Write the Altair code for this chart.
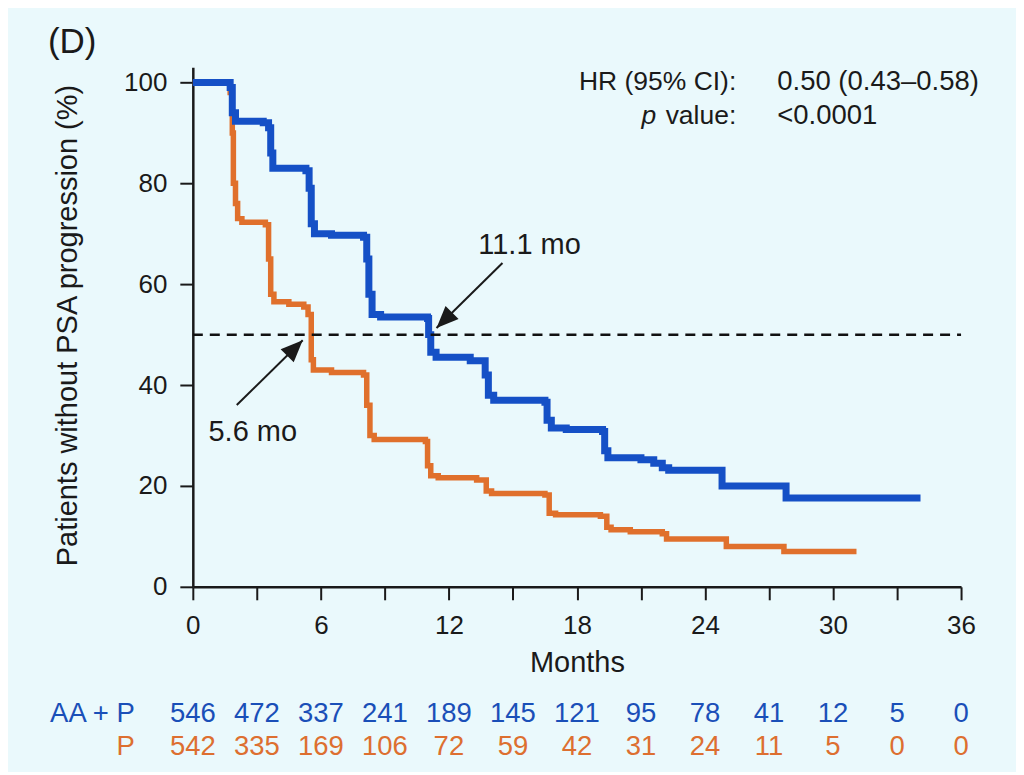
import altair as alt
import pandas as pd

# ---------------- data ----------------
aap_months = [0, 1.75, 1.85, 2.0, 3.3, 3.55, 3.65, 3.75, 5.3, 5.45, 5.55, 5.7, 6.5, 8.0, 8.15, 8.25, 8.4, 8.8,
              11.0, 11.05, 11.15, 11.4, 13.0, 13.7, 13.85, 14.1, 16.5, 16.6, 16.8, 17.5, 19.2, 19.3, 19.45,
              21.0, 21.6, 22.0, 22.3, 24.8, 27.8, 34.1]
aap_pct = [100, 99, 94, 92.3, 92, 91, 86, 83, 82.5, 79, 72, 70, 69.7, 69.3, 65, 58, 54, 53.5,
           53.2, 50, 46.5, 45.5, 44.8, 42, 38, 37, 36.6, 33, 31.5, 31.2, 30.8, 27, 25.6,
           25.2, 24.5, 23.6, 23.1, 20, 17.6, 17.6]

p_months = [0, 1.75, 1.85, 1.9, 2.0, 2.1, 2.3, 3.4, 3.55, 3.65, 3.8, 4.5, 5.2, 5.4, 5.55, 5.65, 6.5, 8.0,
            8.15, 8.3, 8.5, 10.9, 11.0, 11.15, 11.5, 13.3, 13.75, 14.0, 16.5, 16.7, 17.0, 19.1, 19.4,
            19.6, 20.5, 22.0, 22.2, 25.0, 27.7, 31.1]
p_pct = [100, 98, 90, 80, 76, 73, 72.3, 71.8, 65, 58, 56.5, 56, 55.5, 54, 45, 43, 42.5, 42,
         36, 30, 29.2, 28.8, 24, 22, 21.6, 21.2, 19, 18.5, 18.2, 14.6, 14.3, 14.0, 11.8,
         11.3, 10.9, 10.5, 9.5, 8.0, 7.0, 7.0]

risk_months = [0, 3, 6, 9, 12, 15, 18, 21, 24, 27, 30, 33, 36]
risk_aap = [546, 472, 337, 241, 189, 145, 121, 95, 78, 41, 12, 5, 0]
risk_p = [542, 335, 169, 106, 72, 59, 42, 31, 24, 11, 5, 0, 0]

arms = ["AA + P", "P"]
arm_colors = ["#1550c6", "#e0702c"]
text_colors = ["#1a4fb8", "#dd6f30"]

median_label = ["11.1 mo", "5.6 mo"]
arrow_tip_x = [11.42, 5.15]
arrow_tip_y = [51.3, 48.9]
arrow_start_x = [14.51, 2.06]
arrow_start_y = [64.2, 36.05]
arrow_angle = [225, 45]
label_x = [15.78, 2.81]
label_y = [67.7, 30.7]

stats_left = ["HR (95% CI):", "value:"]
stats_right = ["0.50 (0.43\u20130.58)", "<0.0001"]
stats_y = [100.0, 93.3]

FONT = "Liberation Sans"
W, H = 769, 520

xs = alt.Scale(domain=[0, 36], nice=False)
ys = alt.Scale(domain=[0, 103], nice=False)

df_aap = pd.DataFrame({"month": aap_months, "pct": aap_pct})
df_p = pd.DataFrame({"month": p_months, "pct": p_pct})

x_axis = alt.Axis(values=list(range(0, 37, 3)),
                  labelExpr="datum.value % 6 === 0 ? datum.label : ''",
                  tickSize=13, tickWidth=2, domainWidth=2.5, domainColor="#1a1a1a", tickColor="#1a1a1a",
                  labelFontSize=26, labelPadding=13, labelFlush=False, labelColor="#1a1a1a",
                  grid=False, title="Months", titleFontSize=29, titleFontWeight="normal",
                  titleColor="#1a1a1a", titleX=W / 2, titleY=76, titleBaseline="middle", titleAlign="center")
y_axis = alt.Axis(values=[0, 20, 40, 60, 80, 100], tickSize=13, tickWidth=2, domainWidth=2.5,
                  domainColor="#1a1a1a", tickColor="#1a1a1a",
                  labelFontSize=26, labelPadding=13, labelColor="#1a1a1a", grid=False,
                  title="Patients without PSA progression (%)", titleFontSize=29, titleFontWeight="normal",
                  titleColor="#1a1a1a", titleX=-125, titleY=258, titleAngle=-90,
                  titleAlign="center", titleBaseline="middle")

line_p = alt.Chart(df_p).mark_line(interpolate="step-after", color=arm_colors[1], strokeWidth=5.5).encode(
    x=alt.X("month:Q", scale=xs, axis=x_axis),
    y=alt.Y("pct:Q", scale=ys, axis=y_axis),
)
line_aap = alt.Chart(df_aap).mark_line(interpolate="step-after", color=arm_colors[0], strokeWidth=7).encode(
    x=alt.X("month:Q", scale=xs),
    y=alt.Y("pct:Q", scale=ys),
)

ref = pd.DataFrame({"x0": [0], "x1": [36], "y": [50]})
dash = alt.Chart(ref).mark_rule(color="#111111", strokeWidth=2.5, strokeDash=[10, 7]).encode(
    x=alt.X("x0:Q", scale=xs), x2="x1:Q", y=alt.Y("y:Q", scale=ys))

arr = pd.DataFrame({"label": median_label, "tx": arrow_tip_x, "ty": arrow_tip_y,
                    "sx": arrow_start_x, "sy": arrow_start_y, "ang": arrow_angle,
                    "lx": label_x, "ly": label_y})
arrow_lines = alt.Chart(arr).mark_rule(color="#1a1a1a", strokeWidth=2).encode(
    x=alt.X("sx:Q", scale=xs), y=alt.Y("sy:Q", scale=ys), x2="tx:Q", y2="ty:Q")
arrow_heads = alt.Chart(arr).mark_point(shape="M0,0L-0.42,1L0.42,1Z", filled=True, color="#1a1a1a",
                                         opacity=1, size=1936, strokeWidth=0).encode(
    x=alt.X("tx:Q", scale=xs), y=alt.Y("ty:Q", scale=ys), angle=alt.Angle("ang:Q", scale=None))
arrow_text = alt.Chart(arr).mark_text(fontSize=29, color="#1a1a1a", align="center", baseline="middle").encode(
    x=alt.X("lx:Q", scale=xs), y=alt.Y("ly:Q", scale=ys), text="label:N")

st = pd.DataFrame({"l": stats_left, "r": stats_right, "y": stats_y})
st_left = alt.Chart(st).mark_text(fontSize=26.5, color="#1a1a1a", align="right", baseline="middle").encode(
    x=alt.value(544), y=alt.Y("y:Q", scale=ys), text="l:N")
st_right = alt.Chart(st).mark_text(fontSize=27.5, color="#1a1a1a", align="left", baseline="middle").encode(
    x=alt.value(585), y=alt.Y("y:Q", scale=ys), text="r:N")
st_p = alt.Chart(pd.DataFrame({"t": ["p"], "y": [stats_y[1]]})).mark_text(
    fontSize=26.5, color="#1a1a1a", align="right", baseline="middle", fontStyle="italic").encode(
    x=alt.value(464), y=alt.Y("y:Q", scale=ys), text="t:N")

panel = alt.Chart(pd.DataFrame({"t": ["(D)"]})).mark_text(
    fontSize=35, color="#1a1a1a", align="left", baseline="middle").encode(
    x=alt.value(-145), y=alt.value(-25), text="t:N")

risk = pd.DataFrame({"month": risk_months * 2,
                     "n": [str(v) for v in risk_aap] + [str(v) for v in risk_p],
                     "arm": [arms[0]] * len(risk_months) + [arms[1]] * len(risk_months)})
risk_aap_t = alt.Chart(risk[risk.arm == arms[0]]).mark_text(
    fontSize=27.5, color=text_colors[0], align="center", baseline="middle").encode(
    x=alt.X("month:Q", scale=xs), y=alt.value(647), text="n:N")
risk_p_t = alt.Chart(risk[risk.arm == arms[1]]).mark_text(
    fontSize=27.5, color=text_colors[1], align="center", baseline="middle").encode(
    x=alt.X("month:Q", scale=xs), y=alt.value(680), text="n:N")
row_lab = pd.DataFrame({"arm": arms})
row_aap = alt.Chart(row_lab[row_lab.arm == arms[0]]).mark_text(
    fontSize=27.5, color=text_colors[0], align="right", baseline="middle").encode(
    x=alt.value(-58), y=alt.value(647), text="arm:N")
row_p = alt.Chart(row_lab[row_lab.arm == arms[1]]).mark_text(
    fontSize=27.5, color=text_colors[1], align="right", baseline="middle").encode(
    x=alt.value(-58), y=alt.value(680), text="arm:N")

chart = alt.layer(line_p, line_aap, dash, arrow_lines, arrow_heads, arrow_text,
                  st_left, st_right, st_p, panel, risk_aap_t, risk_p_t, row_aap, row_p).properties(
    width=W, height=H,
    autosize=alt.AutoSizeParams(type="none"),
    padding={"left": 185, "top": 59, "right": 55, "bottom": 185},
    background="#eaf9fc",
).configure(font=FONT).configure_view(stroke=None)

chart.save("out.html", embed_options={"renderer": "svg", "actions": False})
